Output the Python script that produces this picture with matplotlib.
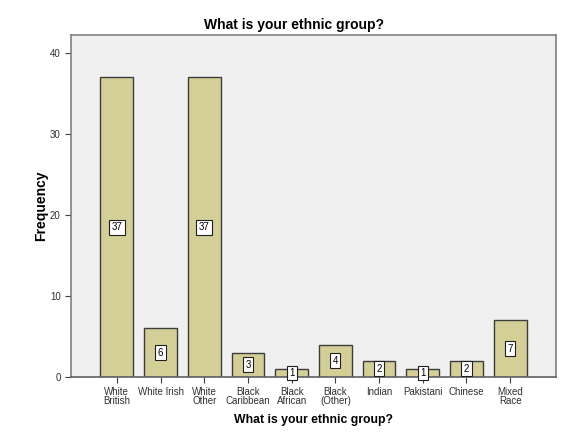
import matplotlib
matplotlib.use("Agg")
import matplotlib.pyplot as plt

categories = ["White\nBritish", "White Irish", "White\nOther", "Black\nCaribbean",
              "Black\nAfrican", "Black\n(Other)", "Indian", "Pakistani",
              "Chinese", "Mixed\nRace"]
counts = [37, 6, 37, 3, 1, 4, 2, 1, 2, 7]

plt.rcParams['font.family'] = ['Liberation Sans', 'DejaVu Sans']

fig = plt.figure(figsize=(5.87, 4.47), dpi=100)
ax = fig.add_axes([71 / 587, 1 - 377 / 447, 485 / 587, 342 / 447])
ax.set_facecolor('#F0F0F0')

x = list(range(len(categories)))
ax.bar(x, counts, width=0.75, color='#D3CF97', edgecolor='#3C3C3C', linewidth=1.0, zorder=2)

# value boxes at half height
for xi, c in zip(x, counts):
    ax.text(xi, c / 2, str(c), ha='center', va='center', fontsize=7, zorder=3,
            bbox=dict(boxstyle='square,pad=0.25', fc='white', ec='#202020', lw=0.8))

ax.set_xlim(-1.05, 10.05)
ax.set_ylim(0, 42.2)
ax.set_yticks([0, 10, 20, 30, 40])
ax.set_xticks(x)
ax.set_xticklabels(categories, fontsize=7, linespacing=0.9)
ax.tick_params(axis='y', labelsize=7, length=4, color='#404040', labelcolor='#303030')
ax.tick_params(axis='x', length=4, color='#404040', pad=3, labelcolor='#303030')

for s in ax.spines.values():
    s.set_color('#808080')
    s.set_linewidth(1.2)
ax.spines['bottom'].set_color('#606060')

# title is centred on the figure, not the axes
ax.set_title('What is your ethnic group?', fontsize=10, fontweight='bold', pad=4, x=0.459)
ax.set_xlabel('What is your ethnic group?', fontsize=8.8, fontweight='bold', labelpad=6)
ax.set_ylabel('Frequency', fontsize=10, fontweight='bold', labelpad=1)

fig.savefig('out.png', dpi=100, facecolor='white')
